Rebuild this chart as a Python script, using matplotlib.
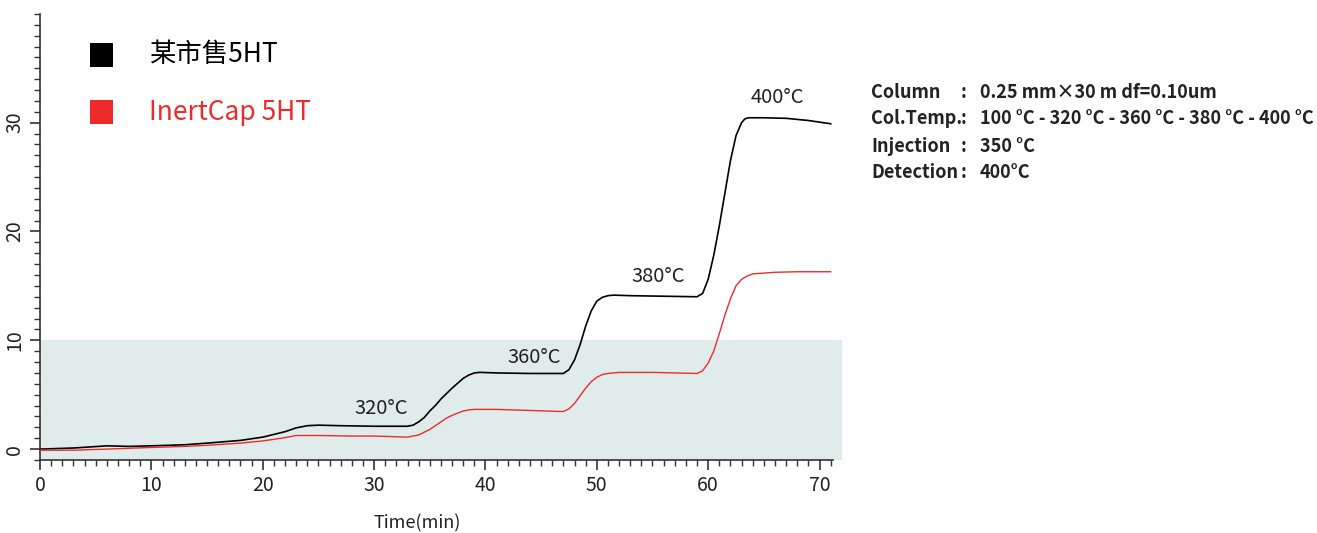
import matplotlib.pyplot as plt
from matplotlib.patches import Rectangle
from matplotlib.ticker import MultipleLocator

plt.rcParams['font.family'] = ['Noto Sans CJK SC', 'DejaVu Sans']

t_black = [0, 3, 6, 8, 10, 13, 15, 18, 20, 21, 22, 23, 24, 25, 27, 30, 33, 33.5, 34, 34.5, 35, 35.5, 36, 36.5, 37, 37.5, 38, 38.5, 39, 39.5, 41, 44, 47,
           47.5, 48, 48.5, 49, 49.5, 50, 50.5, 51, 51.5, 53, 56, 59, 59.5, 60, 60.5, 61, 61.5, 62, 62.5, 63, 63.3, 63.6, 65, 67, 69, 71]
y_black = [0.0, 0.1, 0.3, 0.25, 0.3, 0.4, 0.55, 0.8, 1.1, 1.35, 1.6, 1.95, 2.15, 2.2, 2.15, 2.1, 2.1, 2.2, 2.5, 2.9, 3.5, 4.0, 4.6, 5.1, 5.6, 6.05, 6.5, 6.8, 7.0, 7.05, 7.0, 6.95, 6.95,
           7.3, 8.2, 9.6, 11.3, 12.7, 13.6, 13.95, 14.1, 14.15, 14.1, 14.05, 14.0, 14.3, 15.6, 17.8, 20.5, 23.5, 26.5, 28.8, 30.0, 30.35, 30.45, 30.45, 30.4, 30.2, 29.9]

t_red = [0, 3, 6, 10, 13, 15, 18, 20, 21, 22, 23, 25, 28, 30, 33, 34, 35, 35.5, 36, 36.5, 37, 37.5, 38, 38.5, 39, 41, 44, 47, 47.5, 48, 48.5, 49, 49.5, 50, 50.5, 51,
         52, 55, 59, 59.5, 60, 60.5, 61, 61.5, 62, 62.5, 63, 63.5, 64, 66, 68, 71]
y_red = [-0.1, -0.1, 0.0, 0.15, 0.25, 0.35, 0.55, 0.75, 0.9, 1.05, 1.25, 1.25, 1.2, 1.2, 1.1, 1.3, 1.8, 2.15, 2.5, 2.85, 3.1, 3.3, 3.5, 3.6, 3.65, 3.65, 3.55, 3.45, 3.7, 4.2, 4.9, 5.6, 6.2, 6.6, 6.85, 6.95,
         7.05, 7.05, 6.95, 7.2, 7.9, 9.0, 10.6, 12.3, 13.8, 15.0, 15.6, 15.9, 16.1, 16.25, 16.3, 16.3]

temp_labels = ['320°C', '360°C', '380°C', '400°C']
temp_x = [30.6, 44.4, 55.5, 66.2]
temp_y = [3.7, 8.4, 15.9, 32.3]

series_names = ['某市售5HT', 'InertCap 5HT']
series_colors = ['#000000', '#ee2b2b']

cond_keys = ['Column', 'Col.Temp.', 'Injection', 'Detection']
cond_vals = ['0.25 mm×30 m df=0.10um', '100 °C - 320 °C - 360 °C - 380 °C - 400 °C', '350 °C', '400°C']

fig = plt.figure(figsize=(13.17, 5.33), dpi=100)
ax = fig.add_axes([0.0304, 0.137, 0.602, 0.837])

# shaded band
ax.add_patch(Rectangle((0, -1), 72, 11, facecolor='#e0ecec', edgecolor='none', clip_on=False, zorder=0))

ax.plot(t_black, y_black, color=series_colors[0], lw=1.2, zorder=3)
ax.plot(t_red, y_red, color=series_colors[1], lw=1.0, zorder=3)

for lab, x, y in zip(temp_labels, temp_x, temp_y):
    ax.text(x, y, lab, fontsize=14.5, color='#222222', ha='center', va='center', zorder=4)

ax.set_xlim(0, 71.2)
ax.set_ylim(-1, 40)
ax.xaxis.set_major_locator(MultipleLocator(10))
ax.xaxis.set_minor_locator(MultipleLocator(1))
ax.set_yticks([0, 10, 20, 30])
ax.yaxis.set_minor_locator(MultipleLocator(1))
ax.tick_params(which='major', length=7, width=1.2, labelsize=14, color='#333333', labelcolor='#222222')
ax.tick_params(which='minor', length=4, width=1, color='#333333')
for lbl in ax.get_yticklabels():
    lbl.set_rotation(90)
    lbl.set_va('center')
for s in ['top', 'right']:
    ax.spines[s].set_visible(False)
for s in ['left', 'bottom']:
    ax.spines[s].set_linewidth(1.2)
    ax.spines[s].set_color('#333333')
ax.set_facecolor('none')
fig.text(417 / 1317, 1 - 523 / 533, 'Time(min)', fontsize=13, color='#222222', ha='center', va='center')

# legend squares and names
for i, (name, c) in enumerate(zip(series_names, series_colors)):
    yy = 1 - (55 + i * 57) / 533
    fig.patches.append(Rectangle((90 / 1317, yy - 12 / 533), 23 / 1317, 24 / 533,
                                 transform=fig.transFigure, facecolor=c, edgecolor='none'))
    fig.text(149 / 1317, yy, name, fontsize=19, color=c, va='center')

# run conditions
for i, (k, v) in enumerate(zip(cond_keys, cond_vals)):
    yy = 1 - (92 + i * 27) / 533
    fig.text(871 / 1317, yy, k, fontsize=13, fontweight='bold', color='#222222', va='center')
    fig.text(961 / 1317, yy, ':', fontsize=13, fontweight='bold', color='#222222', va='center')
    fig.text(980 / 1317, yy, v, fontsize=13, fontweight='bold', color='#222222', va='center')

fig.savefig('out.png', dpi=100)
